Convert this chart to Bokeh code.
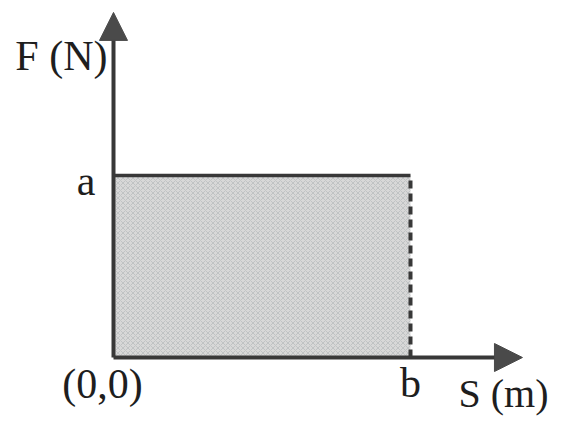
from bokeh.plotting import figure
from bokeh.models import Arrow, NormalHead, Label, Range1d
from bokeh.embed import file_html
from bokeh.resources import INLINE

# Force-displacement diagram: constant force a over displacement b
force_level = [1.0]          # a
displacement_end = [1.0]     # b
axis_tips = {"S": 1.377, "F": 1.896}
labels_text = {"F": "F (N)", "S": "S (m)", "a": "a", "b": "b", "origin": "(0,0)"}

a = force_level[0]
b = displacement_end[0]

p = figure(width=562, height=421, output_backend="svg", toolbar_location=None,
           x_range=Range1d(-0.3805, 1.5118), y_range=Range1d(-0.3516, 1.9615),
           min_border=0)
p.axis.visible = False
p.grid.visible = False
p.outline_line_color = None
p.background_fill_color = "white"
p.border_fill_color = "white"

ink = "#383838"
serif = "Liberation Serif"

# Shaded work area under F(S)
p.quad(left=[0], right=[b], bottom=[0], top=[a],
       fill_color="#d8d8d8", line_color=None,
       hatch_pattern="diagonal_cross", hatch_color="#a4aaac",
       hatch_scale=5, hatch_weight=0.6, hatch_alpha=0.75)

# Constant force line and dashed end marker
p.line([0, b], [a, a], line_color=ink, line_width=3.5)
p.line([b, b], [0, a], line_color=ink, line_width=4, line_dash="8 5")

# Axes with arrow heads
head_kw = dict(size=28, fill_color="#4a4a4a", line_color="#4a4a4a")
p.add_layout(Arrow(end=NormalHead(**head_kw), x_start=0, y_start=0,
                   x_end=axis_tips["S"], y_end=0, line_color=ink, line_width=4))
p.add_layout(Arrow(end=NormalHead(**head_kw), x_start=0, y_start=0,
                   x_end=0, y_end=axis_tips["F"], line_color=ink, line_width=4))

txt = dict(text_font=serif, text_font_size="42px", text_color="#1e1e1e",
           text_baseline="alphabetic")

p.add_layout(Label(x=0, y=axis_tips["F"], x_offset=-6, y_offset=-44,
                   text=labels_text["F"], text_align="right", **txt))
p.add_layout(Label(x=0, y=a, x_offset=-18, y_offset=-6,
                   text=labels_text["a"], text_align="right", **txt))
p.add_layout(Label(x=0, y=0, x_offset=-11, y_offset=-26,
                   text=labels_text["origin"], text_align="center", **txt))
p.add_layout(Label(x=b, y=0, x_offset=0, y_offset=-25,
                   text=labels_text["b"], text_align="center", **txt))
p.add_layout(Label(x=b, y=0, x_offset=48, y_offset=-36,
                   text=labels_text["S"], text_align="left",
                   **{**txt, "text_font_size": "40px"}))

open("out.html", "w").write(file_html(p, INLINE))
